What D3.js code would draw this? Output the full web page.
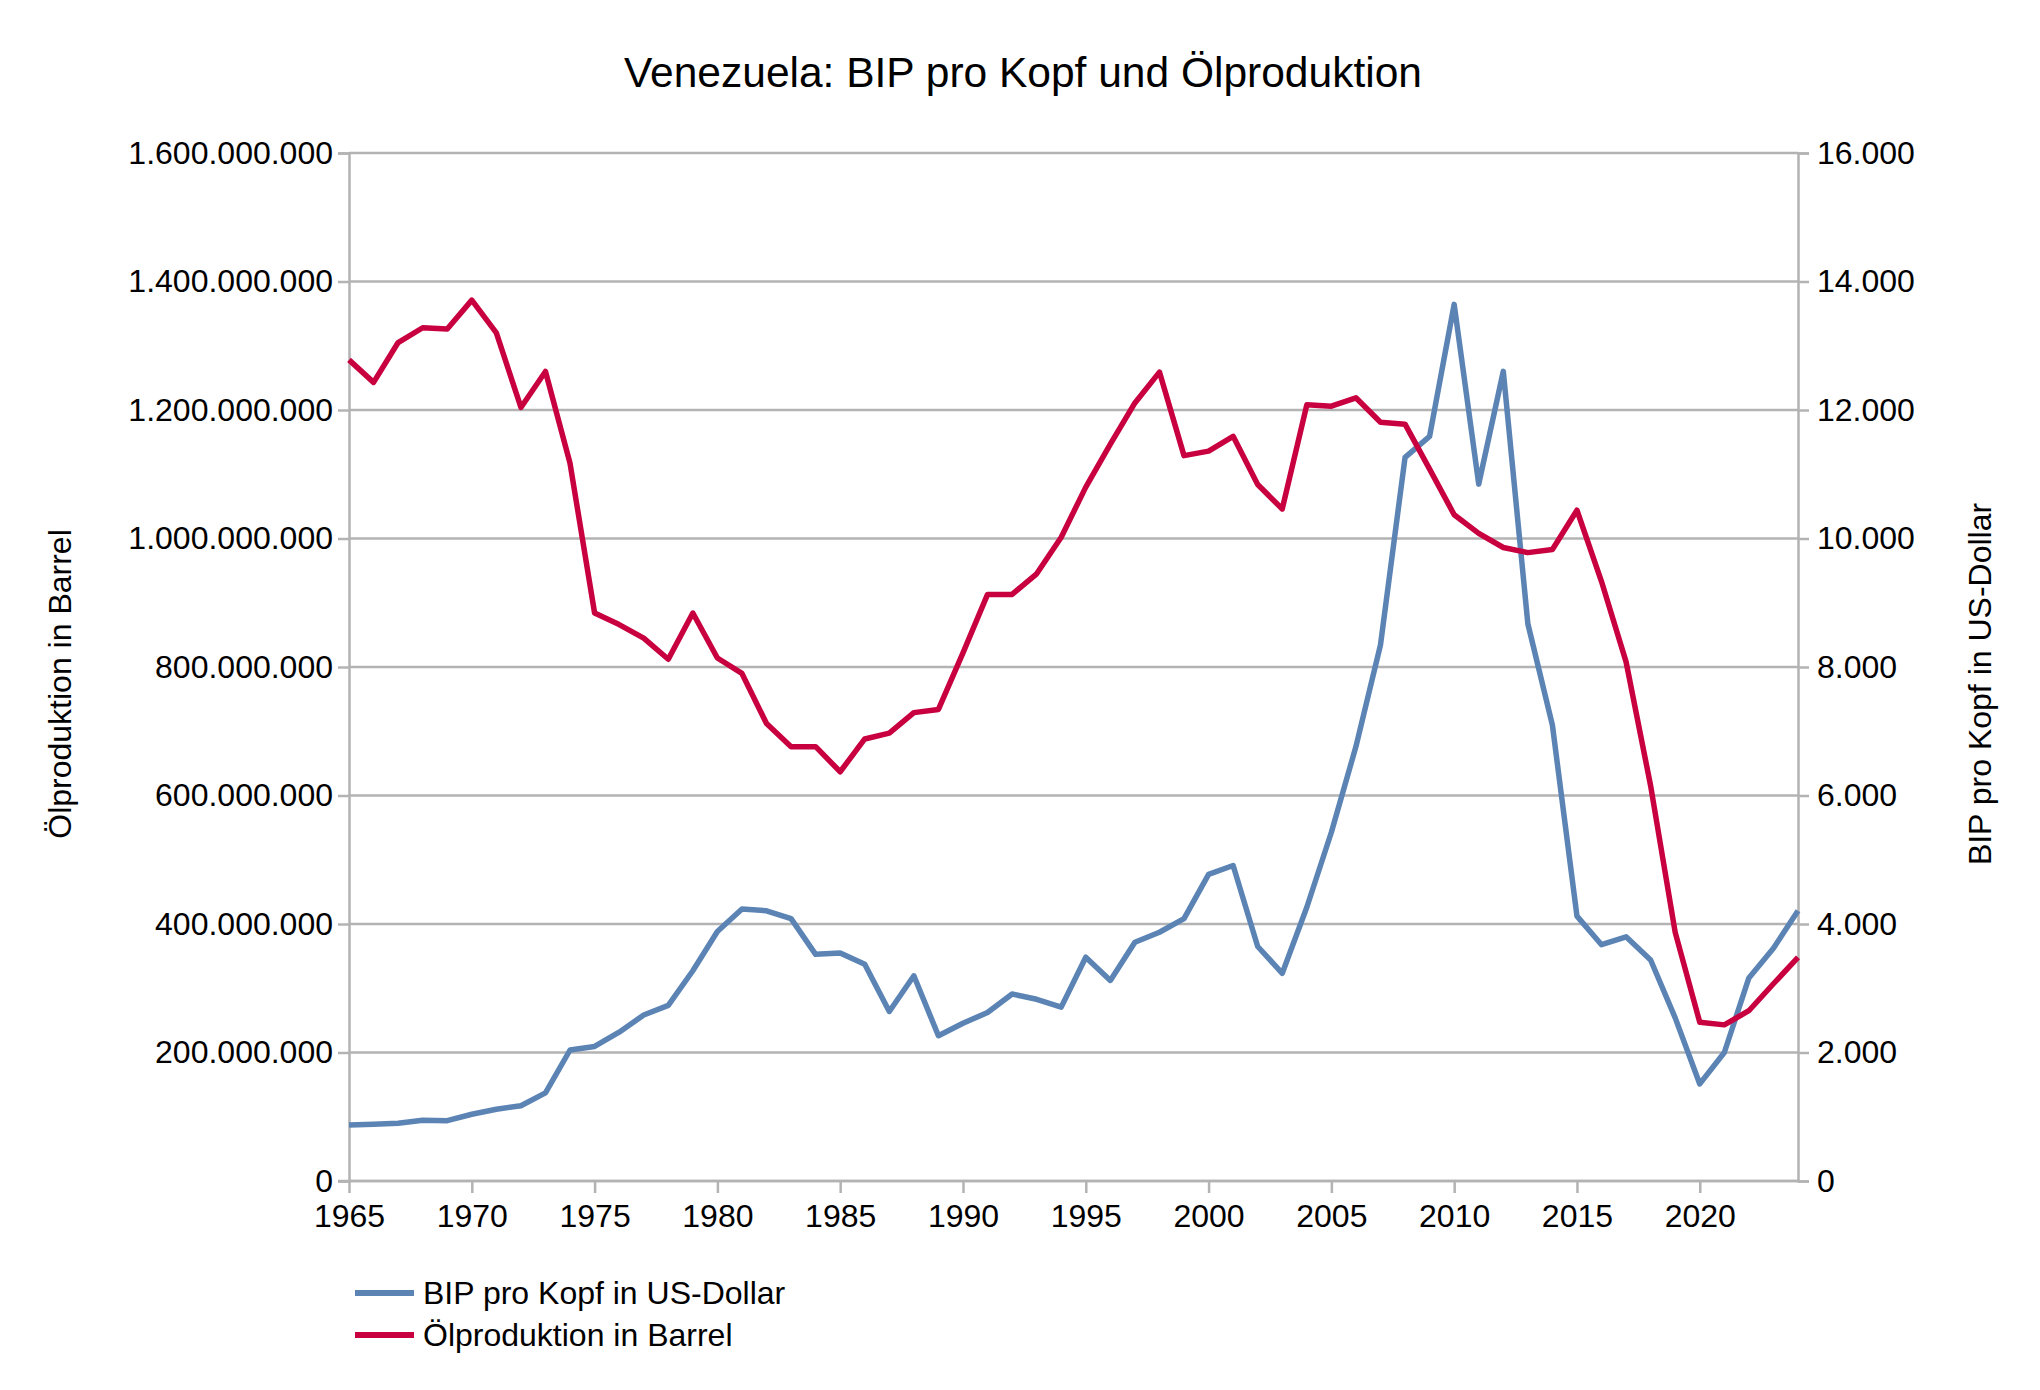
<!DOCTYPE html>
<html>
<head>
<meta charset="utf-8">
<script src="https://cdn.jsdelivr.net/npm/d3@7/dist/d3.min.js"></script>
<style>
  body { margin: 0; background: #fff; }
  svg text { font-family: "Liberation Sans", Arial, Helvetica, sans-serif; fill: #000; }
</style>
</head>
<body>
<script>
// data
var years = d3.range(1965, 2025);

var oilBarrel = [
  1278e6, 1243e6, 1305e6, 1328e6, 1326e6, 1371e6, 1320e6, 1204e6, 1260e6, 1117e6,
  884e6, 866e6, 845e6, 812e6, 884e6, 814e6, 790e6, 712e6, 676e6, 676e6,
  637e6, 688e6, 697e6, 729e6, 734e6, 822e6, 913e6, 913e6, 945e6, 1002e6,
  1080e6, 1147e6, 1211e6, 1259e6, 1129e6, 1136e6, 1159e6, 1084e6, 1046e6, 1208e6,
  1206e6, 1219e6, 1181e6, 1178e6, 1108e6, 1037e6, 1008e6, 986e6, 978e6, 983e6,
  1044e6, 933e6, 808e6, 615e6, 387e6, 247e6, 243e6, 265e6, 307e6, 348e6
];

var gdpPerCapita = [
  872, 883, 900, 944, 939, 1039, 1117, 1172, 1372, 2039,
  2094, 2317, 2583, 2733, 3272, 3883, 4233, 4206, 4083, 3528,
  3550, 3372, 2639, 3194, 2261, 2456, 2622, 2911, 2828, 2706,
  3483, 3122, 3717, 3872, 4083, 4772, 4911, 3650, 3233, 4261,
  5428, 6761, 8345, 11263, 11590, 13644, 10846, 12602, 8673, 7094,
  4122, 3678, 3800, 3439, 2539, 1511, 2000, 3161, 3622, 4206
];

var leftTicks = d3.range(0, 1600000001, 200000000);
var rightTicks = d3.range(0, 16001, 2000);
var xTicks = d3.range(1965, 2021, 5);

var seriesNames = ["BIP pro Kopf in US-Dollar", "Ölproduktion in Barrel"];
var seriesColors = ["#5b84b5", "#c8003f"];

var width = 2040, height = 1390;
var margin = {top: 153, right: 242, bottom: 209, left: 349};
var plotW = width - margin.left - margin.right,
    plotH = height - margin.top - margin.bottom;

var de = d3.formatLocale({decimal: ",", thousands: ".", grouping: [3], currency: ["", " €"]});
var fmt = de.format(",");

var svg = d3.select("body")
            .append("svg")
            .attr('width', width)
            .attr('height', height);

var g = svg.append("g")
           .attr('transform', "translate(" + margin.left + "," + margin.top + ")");

// scales
var x = d3.scaleLinear().domain([1965, 2024]).range([0, plotW]);
var yOil = d3.scaleLinear().domain([0, 1600000000]).range([plotH, 0]);
var yGdp = d3.scaleLinear().domain([0, 16000]).range([plotH, 0]);

var gridColor = "#b3b3b3";

// grid
g.append("g")
 .selectAll("line")
 .data(leftTicks)
 .enter()
 .append("line")
 .attr('x1', 0)
 .attr('x2', plotW)
 .attr('y1', function(d){ return yOil(d); })
 .attr('y2', function(d){ return yOil(d); })
 .style('stroke', gridColor)
 .style('stroke-width', "2.5px");

// axes
var leftAxis = g.append("g")
 .call(d3.axisLeft(yOil).tickValues(leftTicks).tickFormat(fmt).tickSize(11).tickPadding(5));

var rightAxis = g.append("g")
 .attr('transform', "translate(" + plotW + ",0)")
 .call(d3.axisRight(yGdp).tickValues(rightTicks).tickFormat(fmt).tickSize(11).tickPadding(8));

var bottomAxis = g.append("g")
 .attr('transform', "translate(0," + plotH + ")")
 .call(d3.axisBottom(x).tickValues(xTicks).tickFormat(d3.format("d")).tickSize(12).tickPadding(11));

[leftAxis, rightAxis, bottomAxis].forEach(function(a){
  a.select("path.domain")
   .style('stroke', gridColor)
   .style('stroke-width', "2.5px");
  a.selectAll("g.tick line")
   .style('stroke', gridColor)
   .style('stroke-width', "2.5px");
  a.selectAll("g.tick text")
   .style('font-size', "32px")
   .style('font-family', '"Liberation Sans", Arial, sans-serif')
   .style('fill', "#000");
});
bottomAxis.select("path.domain").attr('d', "M-11,0H" + plotW);

// lines
var gdpLine = d3.line()
  .x(function(d, i){ return x(years[i]); })
  .y(function(d){ return yGdp(d); });

var oilLine = d3.line()
  .x(function(d, i){ return x(years[i]); })
  .y(function(d){ return yOil(d); });

g.append("path")
 .datum(gdpPerCapita)
 .attr('d', gdpLine)
 .style('fill', "none")
 .style('stroke', seriesColors[0])
 .style('stroke-width', "5.5px")
 .style('stroke-linejoin', "round");

g.append("path")
 .datum(oilBarrel)
 .attr('d', oilLine)
 .style('fill', "none")
 .style('stroke', seriesColors[1])
 .style('stroke-width', "5.5px")
 .style('stroke-linejoin', "round");

// title
svg.append("text")
   .text("Venezuela: BIP pro Kopf und Ölproduktion")
   .attr('x', 1023)
   .attr('y', 87)
   .attr('text-anchor', "middle")
   .style('font-size', "42.5px");

// axis titles
svg.append("text")
   .text("Ölproduktion in Barrel")
   .attr('transform', "translate(60,684) rotate(-90)")
   .attr('text-anchor', "middle")
   .attr('dominant-baseline', "central")
   .style('font-size', "32px");

svg.append("text")
   .text("BIP pro Kopf in US-Dollar")
   .attr('transform', "translate(1980,684) rotate(-90)")
   .attr('text-anchor', "middle")
   .attr('dominant-baseline', "central")
   .style('font-size', "32px");

// legend
var legend = svg.append("g")
   .attr('transform', "translate(355,1293)");

var item = legend.selectAll("g")
   .data(seriesNames)
   .enter()
   .append("g")
   .attr('transform', function(d, i){ return "translate(0," + (i * 42) + ")"; });

item.append("line")
   .attr('x1', 0)
   .attr('x2', 59)
   .style('stroke', function(d, i){ return seriesColors[i]; })
   .style('stroke-width', "6px");

item.append("text")
   .text(function(d){ return d; })
   .attr('x', 68)
   .attr('dominant-baseline', "central")
   .style('font-size', "32px");
</script>
</body>
</html>
